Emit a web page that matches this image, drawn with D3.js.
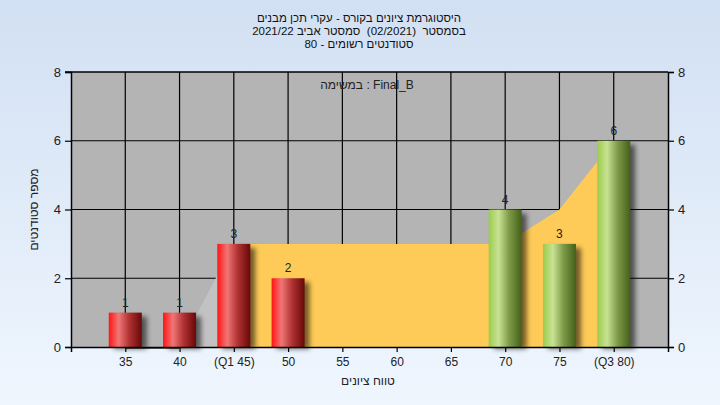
<!DOCTYPE html>
<html><head><meta charset="utf-8">
<script src="https://cdn.jsdelivr.net/npm/d3@7"></script>
<style>html,body{margin:0;padding:0;overflow:hidden}svg{display:block}text{font-family:"Liberation Sans","DejaVu Sans",sans-serif}</style>
</head><body>
<script>
const categories = ["35","40","(Q1 45)","50","55","60","65","70","75","(Q3 80)"];
const counts = [1,1,3,2,0,0,0,4,3,6];
const barGroup = ["r","r","r","r","r","r","r","g","g","g"];
const areaValues = [0,0,3,3,3,3,3,3,4,6];
const yTicks = [0,2,4,6,8];
const titleLines = ["היסטוגרמת ציונים בקורס - עקרי תכן מבנים","בסמסטר  (02/2021)  סמסטר אביב 2021/22","סטודנטים רשומים - 80"];
const legendText = "במשימה : Final_B";
const xTitle = "טווח ציונים";
const yTitle = "מספר סטודנטים";

const W = 720, H = 405;
const L = 71, R = 668, T = 72, B = 347;
const svg = d3.select("body").append("svg").attr("width", W).attr("height", H);
const defs = svg.append("defs");
const bg = defs.append("linearGradient").attr("id","bg").attr("x1",0).attr("y1",0).attr("x2",0).attr("y2",1);
bg.append("stop").attr("offset","0%").attr("stop-color","#d2e0f3");
bg.append("stop").attr("offset","100%").attr("stop-color","#eff6fe");
const gr = defs.append("linearGradient").attr("id","gr");
[["0%","#ff1414"],["30%","#f07676"],["62%","#b03232"],["100%","#680808"]].forEach(s=>gr.append("stop").attr("offset",s[0]).attr("stop-color",s[1]));
const gg = defs.append("linearGradient").attr("id","gg");
[["0%","#9ccc4a"],["30%","#c8e294"],["62%","#7e9a48"],["100%","#44601a"]].forEach(s=>gg.append("stop").attr("offset",s[0]).attr("stop-color",s[1]));
const f = defs.append("filter").attr("id","sh").attr("x","-50%").attr("y","-50%").attr("width","200%").attr("height","200%");
f.append("feGaussianBlur").attr("stdDeviation",2.5);

svg.append("rect").attr("width",W).attr("height",H).attr("fill","url(#bg)");

const x = d3.scaleLinear().domain([0, categories.length + 1]).range([L, R]);
const y = d3.scaleLinear().domain([0, 8]).range([B, T]);

svg.append("rect").attr("x",L).attr("y",T).attr("width",R-L).attr("height",B-T).attr("fill","#b4b4b4");

// grid
const g = svg.append("g");
categories.forEach((c,i)=>{
  g.append("line").attr("x1",x(i+1)).attr("x2",x(i+1)).attr("y1",T).attr("y2",B).attr("stroke","#000").attr("stroke-width",1.2);
});
yTicks.filter(v=>v>0&&v<8).forEach(v=>{
  g.append("line").attr("x1",L).attr("x2",R).attr("y1",y(v)).attr("y2",y(v)).attr("stroke","#000").attr("stroke-width",1.2);
});

// areas
const area = d3.area().x(d=>x(d.i+1)).y0(B).y1(d=>y(d.v));
const pts = areaValues.map((v,i)=>({i,v}));
svg.append("path").datum(pts.slice(0,3)).attr("d",area).attr("fill","#c2c2c2");
svg.append("path").datum(pts.slice(2)).attr("d",area).attr("fill","#fecb58");
svg.append("line").attr("x1",x(1)).attr("x2",x(2)).attr("y1",B+1.5).attr("y2",B+1.5).attr("stroke","#666").attr("stroke-width",1);

// bars
const bw = 33;
counts.forEach((v,i)=>{
  if (v <= 0) return;
  const cx = x(i+1);
  svg.append("rect").attr("x",cx-bw/2+5).attr("y",y(v)+4).attr("width",bw).attr("height",B-y(v)-2)
    .attr("fill","#000").attr("opacity",0.55).attr("filter","url(#sh)");
});
counts.forEach((v,i)=>{
  if (v <= 0) return;
  const cx = x(i+1);
  svg.append("rect").attr("x",cx-bw/2).attr("y",y(v)).attr("width",bw).attr("height",B-y(v))
    .attr("fill", barGroup[i]==="r" ? "url(#gr)" : "url(#gg)");
  svg.append("text").attr("x",cx).attr("y",y(v)-6).attr("text-anchor","middle").attr("font-size",12).attr("fill","#222").text(v);
});

// axes
const axisY = d3.axisLeft(y).tickValues(yTicks).tickSize(6).tickPadding(4);
const ga = svg.append("g").attr("transform",`translate(${L},0)`).call(axisY);
const axisY2 = d3.axisRight(y).tickValues(yTicks).tickSize(6).tickPadding(4);
const gb = svg.append("g").attr("transform",`translate(${R},0)`).call(axisY2);
const axisX = d3.axisBottom(x).tickValues(categories.map((c,i)=>i+1)).tickFormat((d)=>categories[d-1]).tickSize(5).tickPadding(5);
const gc = svg.append("g").attr("transform",`translate(0,${B})`).call(axisX);
[ga,gb,gc].forEach(a=>{
  a.select(".domain").attr("stroke","#000").attr("stroke-width",1.5);
  a.selectAll(".tick line").attr("stroke","#000").attr("stroke-width",1.2);
  a.selectAll(".tick text").attr("font-size",12).attr("fill","#222").attr("font-family","Liberation Sans, DejaVu Sans, sans-serif");
});
ga.selectAll(".tick text").attr("font-size",13);
gb.selectAll(".tick text").attr("font-size",13);
svg.append("line").attr("x1",L-6).attr("x2",R).attr("y1",T).attr("y2",T).attr("stroke","#000").attr("stroke-width",1.5);

// titles
titleLines.forEach((t,i)=>{
  svg.append("text").attr("x",359).attr("y",22+i*13).attr("text-anchor","middle").attr("font-size",11.5)
    .style("white-space","pre").attr("fill","#111").text(t);
});
svg.append("text").attr("x",367).attr("y",89).attr("text-anchor","middle").attr("font-size",12).attr("fill","#222").text(legendText);
svg.append("text").attr("x",368).attr("y",385).attr("text-anchor","middle").attr("font-size",12).attr("fill","#222").text(xTitle);
svg.append("text").attr("transform",`translate(38,${(T+B)/2}) rotate(-90)`).attr("text-anchor","middle").attr("font-size",12).attr("fill","#222").text(yTitle);
</script>
</body></html>
